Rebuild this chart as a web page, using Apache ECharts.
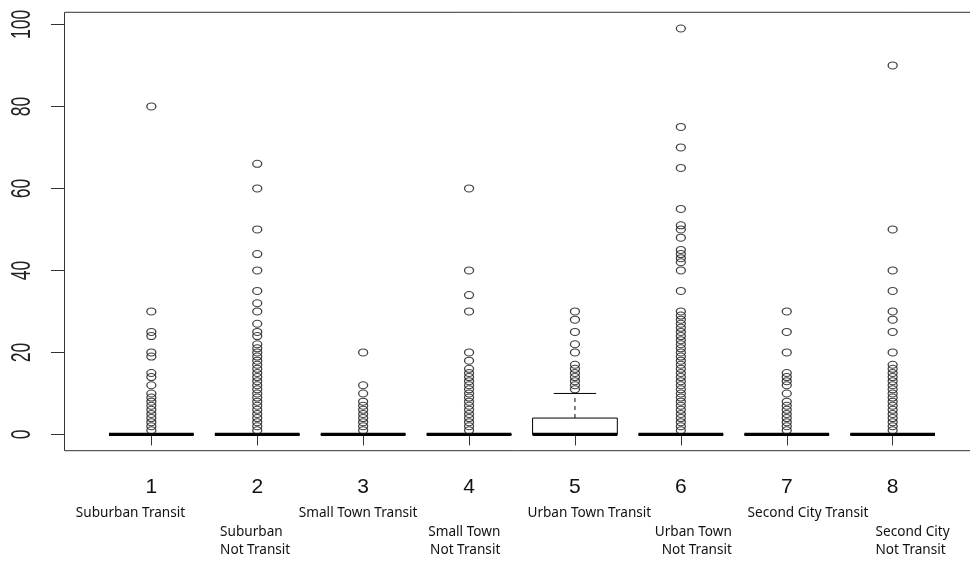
<!DOCTYPE html>
<html><head><meta charset="utf-8">
<script src="https://cdn.jsdelivr.net/npm/echarts@6/dist/echarts.min.js"></script>
<style>html,body{margin:0;padding:0;background:#fff}#c{width:970px;height:564px}</style>
</head><body><div id="c"></div>
<script>
// ---------------- data ----------------
const groupIds = [1, 2, 3, 4, 5, 6, 7, 8];
const groupNames = [
  'Suburban Transit', 'Suburban\nNot Transit',
  'Small Town Transit', 'Small Town\nNot Transit',
  'Urban Town Transit', 'Urban Town\nNot Transit',
  'Second City Transit', 'Second City\nNot Transit'
];
// [lower whisker, Q1, median, Q3, upper whisker]
const boxStats = [
  [0, 0, 0, 0, 0],
  [0, 0, 0, 0, 0],
  [0, 0, 0, 0, 0],
  [0, 0, 0, 0, 0],
  [0, 0, 0, 4, 10],
  [0, 0, 0, 0, 0],
  [0, 0, 0, 0, 0],
  [0, 0, 0, 0, 0]
];
const outliers1 = [1, 2, 3, 4, 5, 6, 7, 8, 9, 10, 12, 14, 15, 19, 20, 24, 25, 30, 80];
const outliers2 = [1, 2, 3, 4, 5, 6, 7, 8, 9, 10, 11, 12, 13, 14, 15, 16, 17, 18, 19, 20, 21, 22, 24, 25, 27, 30, 32, 35, 40, 44, 50, 60, 66];
const outliers3 = [1, 2, 3, 4, 5, 6, 7, 8, 10, 12, 20];
const outliers4 = [1, 2, 3, 4, 5, 6, 7, 8, 9, 10, 11, 12, 13, 14, 15, 16, 18, 20, 30, 34, 40, 60];
const outliers5 = [11, 12, 13, 14, 15, 16, 17, 20, 22, 25, 28, 30];
const outliers6 = [1, 2, 3, 4, 5, 6, 7, 8, 9, 10, 11, 12, 13, 14, 15, 16, 17, 18, 19, 20, 21, 22, 23, 24, 25, 26, 27, 28, 29, 30, 35, 40, 42, 43, 44, 45, 48, 50, 51, 55, 65, 70, 75, 99];
const outliers7 = [1, 2, 3, 4, 5, 6, 7, 8, 10, 12, 13, 14, 15, 20, 25, 30];
const outliers8 = [1, 2, 3, 4, 5, 6, 7, 8, 9, 10, 11, 12, 13, 14, 15, 16, 17, 20, 25, 28, 30, 35, 40, 50, 90];
const yTicks = [0, 20, 40, 60, 80, 100];

// ---------------- layout ----------------
const X_MIN = 0.18, X_MAX = 8.82, Y_MIN = -3.96, Y_MAX = 102.96;
const BOX_HALF = 0.4, STAPLE_HALF = 0.2;
// category-name anchors (axis units), alignment and starting row
const labelAnchor = [0.8035, 1.649, 2.953, 4.295, 5.136, 6.482, 7.200, 7.838];
const labelAlign = ['center', 'left', 'center', 'right', 'center', 'right', 'center', 'left'];
const labelRowStart = [0, 1, 0, 1, 0, 1, 0, 1];
const ROW_OFFSETS = [62.3, 81, 99.3];
const Y_LABEL_GAP = 42;

const outlierGroups = [outliers1, outliers2, outliers3, outliers4, outliers5, outliers6, outliers7, outliers8];
const boxData = groupIds.map((g, i) => [g].concat(boxStats[i]));
const outlierData = [];
outlierGroups.forEach((arr, i) => arr.forEach(v => outlierData.push([groupIds[i], v])));
const labelData = labelAnchor.map((a, i) => [a, i]);
const yLabelData = yTicks.map(t => [X_MIN, t]);

function renderBox(params, api) {
  const x = api.value(0), lo = api.value(1), q1 = api.value(2), med = api.value(3), q3 = api.value(4), hi = api.value(5);
  const tl = api.coord([x - BOX_HALF, q3]), br = api.coord([x + BOX_HALF, q1]);
  const mL = api.coord([x - BOX_HALF, med]), mR = api.coord([x + BOX_HALF, med]);
  const cHi = api.coord([x, hi]), cQ3 = api.coord([x, q3]), cQ1 = api.coord([x, q1]), cLo = api.coord([x, lo]);
  const sHiL = api.coord([x - STAPLE_HALF, hi]), sHiR = api.coord([x + STAPLE_HALF, hi]);
  const sLoL = api.coord([x - STAPLE_HALF, lo]), sLoR = api.coord([x + STAPLE_HALF, lo]);
  const thin = { stroke: '#000', lineWidth: 1 };
  return {
    type: 'group',
    children: [
      { type: 'line', shape: { x1: cQ3[0], y1: cQ3[1], x2: cHi[0], y2: cHi[1] }, style: { stroke: '#000', lineWidth: 1, lineDash: [4, 4] } },
      { type: 'line', shape: { x1: cQ1[0], y1: cQ1[1], x2: cLo[0], y2: cLo[1] }, style: { stroke: '#000', lineWidth: 1, lineDash: [4, 4] } },
      { type: 'line', shape: { x1: sHiL[0], y1: sHiL[1], x2: sHiR[0], y2: sHiR[1] }, style: thin },
      { type: 'line', shape: { x1: sLoL[0], y1: sLoL[1], x2: sLoR[0], y2: sLoR[1] }, style: thin },
      { type: 'rect', shape: { x: tl[0], y: tl[1], width: br[0] - tl[0], height: br[1] - tl[1] }, style: { fill: '#fff', stroke: '#000', lineWidth: 1 } },
      { type: 'line', shape: { x1: mL[0], y1: mL[1], x2: mR[0], y2: mR[1] }, style: { stroke: '#000', lineWidth: 3.2 } }
    ]
  };
}

function renderLabels(params, api) {
  const i = params.dataIndex;
  const p = api.coord([api.value(0), Y_MIN]);
  const lines = groupNames[i].split('\n');
  return {
    type: 'group',
    children: lines.map((t, k) => ({
      type: 'text',
      x: p[0],
      y: p[1] + ROW_OFFSETS[labelRowStart[i] + k],
      style: {
        text: t, textAlign: labelAlign[i], textVerticalAlign: 'middle',
        fontFamily: 'Noto Sans', fontSize: 13.6, fill: '#111'
      }
    }))
  };
}

function renderYLabels(params, api) {
  const p = api.coord([api.value(0), api.value(1)]);
  return {
    type: 'text',
    x: p[0] - Y_LABEL_GAP,
    y: p[1],
    rotation: Math.PI / 2,
    scaleX: 0.65,
    style: {
      text: String(api.value(1)), textAlign: 'center', textVerticalAlign: 'middle',
      fontFamily: 'Liberation Sans', fontSize: 27, fill: '#222'
    }
  };
}

const chart = echarts.init(document.getElementById('c'), null, { renderer: 'canvas' });
chart.setOption({
  animation: false,
  backgroundColor: '#fff',
  grid: { left: 64.5, top: 12.3, width: 915, bottom: 113.3, outerBoundsMode: 'none', containLabel: false, show: true, borderColor: '#333', borderWidth: 1, backgroundColor: 'transparent' },
  xAxis: {
    type: 'value', min: X_MIN, max: X_MAX,
    axisLine: { show: false },
    splitLine: { show: false },
    axisTick: { show: true, length: 11, customValues: groupIds, lineStyle: { color: '#333', width: 1 } },
    axisLabel: { customValues: groupIds, margin: 26, fontFamily: 'Liberation Sans', fontSize: 21, color: '#111' }
  },
  yAxis: {
    type: 'value', min: Y_MIN, max: Y_MAX,
    axisLine: { show: false },
    splitLine: { show: false },
    axisTick: { show: true, length: 13.5, customValues: yTicks, lineStyle: { color: '#333', width: 1 } },
    axisLabel: { show: false }
  },
  series: [
    { type: 'custom', name: 'box', renderItem: renderBox, data: boxData, encode: { x: 0, y: [1, 2, 3, 4, 5] }, z: 2 },
    {
      type: 'scatter', name: 'outliers', data: outlierData, symbol: 'circle', symbolSize: [9, 7],
      itemStyle: { color: 'rgba(0,0,0,0)', borderColor: '#111', borderWidth: 1.15 }, z: 3
    },
    { type: 'custom', name: 'labels', renderItem: renderLabels, data: labelData, encode: { x: 0 }, clip: false, silent: true, z: 4 },
    { type: 'custom', name: 'yLabels', renderItem: renderYLabels, data: yLabelData, encode: { x: 0, y: 1 }, clip: false, silent: true, z: 4 }
  ]
});
</script>
</body></html>
